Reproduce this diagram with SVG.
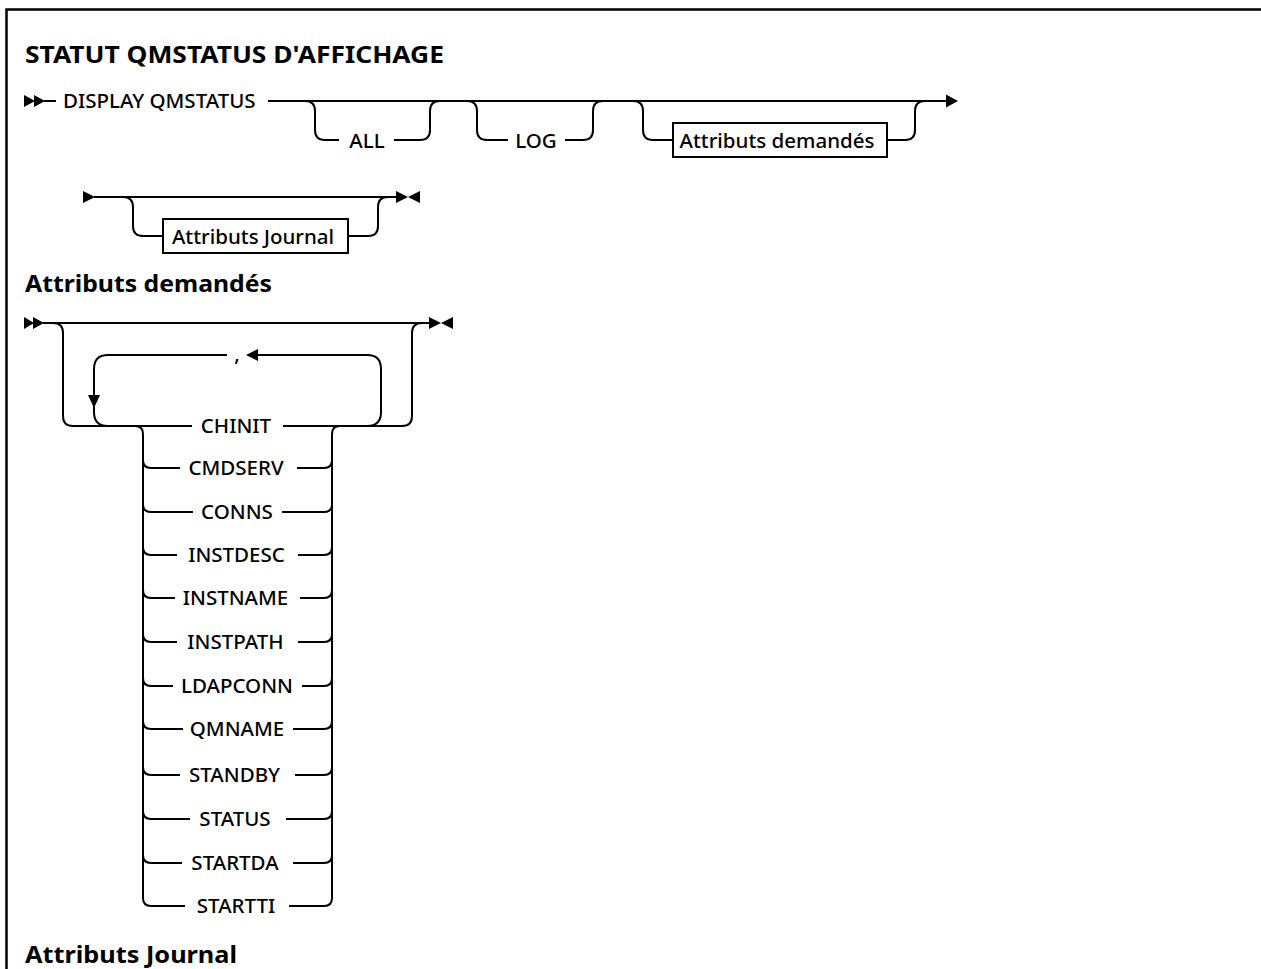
<svg xmlns="http://www.w3.org/2000/svg" width="1261" height="969" viewBox="0 0 1261 969">
<style>
.ln{fill:none;stroke:#000;stroke-width:2}
.ah{fill:#000;stroke:none}
.t{font-family:"Noto Sans","Liberation Sans",sans-serif;font-size:20.5px;font-weight:500;fill:#000}
.tm{text-anchor:middle}
.h{font-family:"Noto Sans","Liberation Sans",sans-serif;font-size:23px;font-weight:bold;fill:#000}
.box{fill:#fff;stroke:#000;stroke-width:2}
</style>
<rect x="0" y="0" width="1261" height="969" fill="#fff"/>
<rect x="6.5" y="9.5" width="1300" height="1000" fill="none" stroke="#000" stroke-width="2.5"/>

<g id="title"><text class="h" x="25" y="63" textLength="419" lengthAdjust="spacingAndGlyphs">STATUT QMSTATUS D'AFFICHAGE</text></g>
<g id="heading-attr"><text class="h" x="25" y="292" textLength="247" lengthAdjust="spacingAndGlyphs">Attributs demandés</text></g>
<g id="heading-journal"><text class="h" x="25" y="963" textLength="212" lengthAdjust="spacingAndGlyphs">Attributs Journal</text></g>

<g id="connectors">
  <!-- line 1 -->
  <polygon class="ah" points="24,95 35,101 24,107"/>
  <polygon class="ah" points="34,95 45,101 34,107"/>
  <path class="ln" d="M44,101 H56"/>
  <path class="ln" d="M268,101 H946"/>
  <polygon class="ah" points="946,94.5 958,101 946,107.5"/>
  <path class="ln" d="M305,101 Q315,101 315,111 V130 Q315,140 325,140 H339"/>
  <path class="ln" d="M394,140 H420 Q430,140 430,130 V111 Q430,101 440,101"/>
  <path class="ln" d="M467,101 Q477,101 477,111 V130 Q477,140 487,140 H508"/>
  <path class="ln" d="M565,140 H583 Q593,140 593,130 V111 Q593,101 603,101"/>
  <path class="ln" d="M633,101 Q643,101 643,111 V130 Q643,140 653,140 H673"/>
  <path class="ln" d="M887,140 H905 Q915,140 915,130 V111 Q915,101 925,101"/>
  <!-- line 2 -->
  <polygon class="ah" points="83,191 95,197 83,203"/>
  <path class="ln" d="M94,197 H397"/>
  <path class="ln" d="M123,197 Q133,197 133,207 V226 Q133,236 143,236 H163"/>
  <path class="ln" d="M348,236 H368 Q378,236 378,226 V207 Q378,197 388,197"/>
  <polygon class="ah" points="396,191 408,197 396,203"/>
  <polygon class="ah" points="420,191 408,197 420,203"/>
  <!-- line 3 -->
  <polygon class="ah" points="24,317 34,323 24,329"/>
  <polygon class="ah" points="33,317 44,323 33,329"/>
  <path class="ln" d="M43,323 H430"/>
  <polygon class="ah" points="429,317 441,323 429,329"/>
  <polygon class="ah" points="453,317 441,323 453,329"/>
  <path class="ln" d="M53,323 Q63,323 63,333 V416 Q63,426 73,426 H192"/>
  <path class="ln" d="M283,426 H402 Q412,426 412,416 V333 Q412,323 422,323"/>
  <!-- repeat loop -->
  <path class="ln" d="M367,426 Q381,426 381,412 V369 Q381,355 367,355 H258"/>
  <polygon class="ah" points="246,355 258,349 258,361"/>
  <path class="ln" d="M227,355 H108 Q94,355 94,369 V412 Q94,426 108,426"/>
  <polygon class="ah" points="88,395 100,395 94,408"/>
  <!-- choice stack -->
  <path class="ln" d="M135,426 Q143,426 143,434 V898 Q143,906 151,906 H185"/>
  <path class="ln" d="M340,426 Q332,426 332,434 V898 Q332,906 324,906 H289"/>
  <path class="ln" d="M143,460 Q143,468 151,468 H180 M297,468 H324 Q332,468 332,460"/>
  <path class="ln" d="M143,504 Q143,512 151,512 H193 M282,512 H324 Q332,512 332,504"/>
  <path class="ln" d="M143,547 Q143,555 151,555 H177 M298,555 H324 Q332,555 332,547"/>
  <path class="ln" d="M143,590 Q143,598 151,598 H175 M300,598 H324 Q332,598 332,590"/>
  <path class="ln" d="M143,634 Q143,642 151,642 H177 M298,642 H324 Q332,642 332,634"/>
  <path class="ln" d="M143,678 Q143,686 151,686 H173 M302,686 H324 Q332,686 332,678"/>
  <path class="ln" d="M143,721 Q143,729 151,729 H183 M293,729 H324 Q332,729 332,721"/>
  <path class="ln" d="M143,767 Q143,775 151,775 H180 M295,775 H324 Q332,775 332,767"/>
  <path class="ln" d="M143,811 Q143,819 151,819 H190 M286,819 H324 Q332,819 332,811"/>
  <path class="ln" d="M143,855 Q143,863 151,863 H182 M293,863 H324 Q332,863 332,855"/>
</g>

<g id="n-display"><text class="t" x="63" y="108">DISPLAY QMSTATUS</text></g>
<g id="n-all"><text class="t tm" x="367" y="147.5">ALL</text></g>
<g id="n-log"><text class="t tm" x="536" y="147.5">LOG</text></g>
<g id="n-attr-ref"><rect class="box" x="673" y="123" width="214" height="34"/><text class="t tm" x="777" y="148">Attributs demandés</text></g>
<g id="n-journal-ref"><rect class="box" x="163" y="219" width="185" height="34"/><text class="t tm" x="253" y="243.5">Attributs Journal</text></g>
<g id="n-comma"><text class="t tm" x="237" y="361">,</text></g>
<g id="n-chinit"><text class="t tm" x="236" y="433">CHINIT</text></g>
<g id="n-cmdserv"><text class="t tm" x="236" y="475">CMDSERV</text></g>
<g id="n-conns"><text class="t tm" x="237" y="519">CONNS</text></g>
<g id="n-instdesc"><text class="t tm" x="236.5" y="562">INSTDESC</text></g>
<g id="n-instname"><text class="t tm" x="235.5" y="605">INSTNAME</text></g>
<g id="n-instpath"><text class="t tm" x="235.5" y="649">INSTPATH</text></g>
<g id="n-ldapconn"><text class="t tm" x="237" y="693">LDAPCONN</text></g>
<g id="n-qmname"><text class="t tm" x="237" y="736">QMNAME</text></g>
<g id="n-standby"><text class="t tm" x="234.5" y="782">STANDBY</text></g>
<g id="n-status"><text class="t tm" x="235" y="826">STATUS</text></g>
<g id="n-startda"><text class="t tm" x="235" y="870">STARTDA</text></g>
<g id="n-startti"><text class="t tm" x="236" y="913">STARTTI</text></g>
</svg>
